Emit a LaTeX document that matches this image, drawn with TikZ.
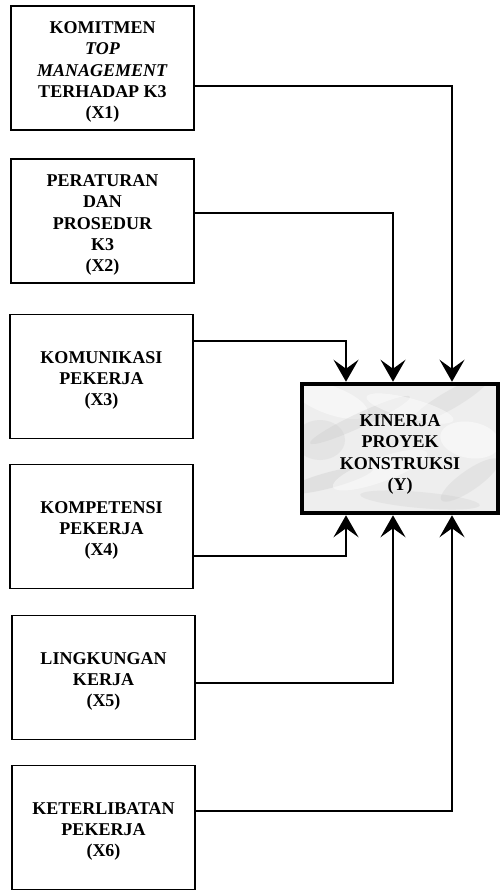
\documentclass[tikz,border=0pt]{standalone}
\usepackage{fontspec}
\setmainfont{Liberation Serif}
\usetikzlibrary{arrows.meta}
\tikzset{
  lbox/.style={draw=black, line width=1.8pt, minimum width=183pt, minimum height=124pt, inner sep=0pt},
  ybox/.style={draw=black, line width=4.5pt, minimum width=196pt, minimum height=129pt, inner sep=0pt},
  lbl/.style={align=center, inner sep=0pt, font=\bfseries\fontsize{18}{21.3}\selectfont},
  conn/.style={line width=2pt, line join=miter},
  arr/.style={conn, -{Stealth[length=22pt, width=25pt, inset=9pt]}}
}
\begin{document}
\begin{tikzpicture}[x=1pt, y=-1pt]
\useasboundingbox (0,0) rectangle (500,890);
% central box with marble-like texture
\node[ybox, fill=gray!13, path picture={
  \fill[white, opacity=0.5] (-70,-48.5) ellipse [x radius=40pt, y radius=14pt, rotate=-20];
  \fill[gray!60, opacity=0.2] (-40,-28.5) ellipse [x radius=55pt, y radius=7pt, rotate=25];
  \fill[gray!55, opacity=0.2] (50,-48.5) ellipse [x radius=45pt, y radius=9pt, rotate=30];
  \fill[white, opacity=0.5] (70,-8.5) ellipse [x radius=30pt, y radius=18pt, rotate=-10];
  \fill[gray!60, opacity=0.22] (-70,31.5) ellipse [x radius=45pt, y radius=8pt, rotate=15];
  \fill[gray!50, opacity=0.2] (20,51.5) ellipse [x radius=60pt, y radius=8pt, rotate=-5];
  \fill[white, opacity=0.45] (-20,21.5) ellipse [x radius=50pt, y radius=12pt, rotate=20];
  \fill[gray!55, opacity=0.2] (70,31.5) ellipse [x radius=35pt, y radius=10pt, rotate=35];
  \fill[gray!50, opacity=0.2] (-80,-8.5) ellipse [x radius=25pt, y radius=20pt];
  \fill[white, opacity=0.45] (10,-40) ellipse [x radius=45pt, y radius=10pt, rotate=-15];
}] (y) at (400,448.5) {};
\node[lbl, yshift=-6pt] (yt) at (y.center) {KINERJA\\PROYEK\\KONSTRUKSI\\(Y)};

% left boxes
\node[lbox] (x1) at (102.5,68) {};
\node[lbox] (x2) at (102.5,221) {};
\node[lbox] (x3) at (101.5,376.5) {};
\node[lbox] (x4) at (101.5,526.5) {};
\node[lbox] (x5) at (103.5,677.5) {};
\node[lbox] (x6) at (103.5,827.5) {};

\node[lbl, yshift=-4pt] (t1) at (x1.center) {KOMITMEN\\\textit{TOP}\\\textit{MANAGEMENT}\\TERHADAP K3\\(X1)};
\node[lbl, yshift=-4pt] (t2) at (x2.center) {PERATURAN\\DAN\\PROSEDUR\\K3\\(X2)};
\node[lbl, yshift=-4pt] (t3) at (x3.center) {KOMUNIKASI\\PEKERJA\\(X3)};
\node[lbl, yshift=-4pt] (t4) at (x4.center) {KOMPETENSI\\PEKERJA\\(X4)};
\node[lbl, yshift=-4pt] (t5) at (x5.center) {LINGKUNGAN\\KERJA\\(X5)};
\node[lbl, yshift=-4pt] (t6) at (x6.center) {KETERLIBATAN\\PEKERJA\\(X6)};

% connectors
\draw[arr] ([yshift=-18pt]x1.east) -| ([xshift=52pt]y.north);
\draw[arr] ([yshift=8pt]x2.east) -| ([xshift=-7pt]y.north);
\draw[arr] ([yshift=35.5pt]x3.east) -| ([xshift=-54pt]y.north);
\draw[arr] ([yshift=-29.5pt]x4.east) -| ([xshift=-54pt]y.south);
\draw[arr] ([yshift=-5.5pt]x5.east) -| ([xshift=-7pt]y.south);
\draw[arr] ([yshift=16.5pt]x6.east) -| ([xshift=52pt]y.south);
\end{tikzpicture}
\end{document}
